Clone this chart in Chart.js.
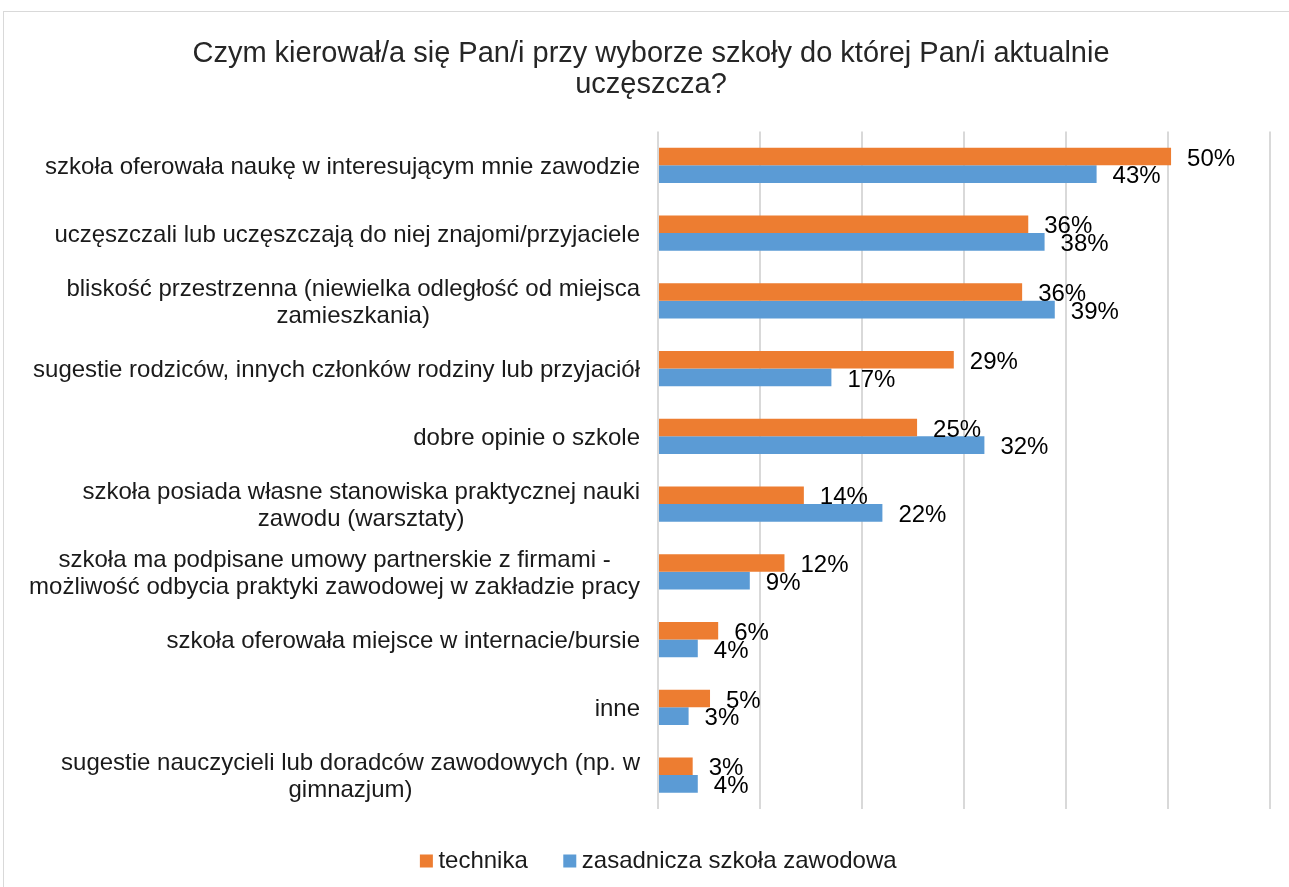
<!DOCTYPE html>
<html><head><meta charset="utf-8">
<script src="https://cdn.jsdelivr.net/npm/chart.js@4.4.1/dist/chart.umd.min.js"></script>
<style>
html,body{margin:0;padding:0;background:#fff;overflow:hidden;width:1289px;height:887px;}
#frame{position:absolute;left:3px;top:11px;width:1300px;height:900px;border:1px solid #d9d9d9;box-sizing:border-box;}
#wrap{position:absolute;left:0;top:0;width:1289px;height:887px;}
</style></head><body>
<div id="frame"></div>
<div id="wrap"><canvas id="c" width="1289" height="887"></canvas></div>
<script>
const titleLines = ['Czym kierował/a się Pan/i przy wyborze szkoły do której Pan/i aktualnie', 'uczęszcza?'];
const categories = [
  'szkoła oferowała naukę w interesującym mnie zawodzie',
  'uczęszczali lub uczęszczają do niej znajomi/przyjaciele',
  ['bliskość przestrzenna (niewielka odległość od miejsca', 'zamieszkania)'],
  'sugestie rodziców, innych członków rodziny lub przyjaciół',
  'dobre opinie o szkole',
  ['szkoła posiada własne stanowiska praktycznej nauki', 'zawodu (warsztaty)'],
  ['szkoła ma podpisane umowy partnerskie z firmami -', 'możliwość odbycia praktyki zawodowej w zakładzie pracy'],
  'szkoła oferowała miejsce w internacie/bursie',
  'inne',
  ['sugestie nauczycieli lub doradców zawodowych (np. w', 'gimnazjum)']
];
const seriesNames = ['technika', 'zasadnicza szkoła zawodowa'];
const technika   = [50.3, 36.3, 35.7, 29.0, 25.4, 14.3, 12.4, 5.9, 5.1, 3.4];
const zasadnicza = [43.0, 37.9, 38.9, 17.0, 32.0, 22.0, 9.0, 3.9, 3.0, 3.9];
const xMin = 0, xMax = 60, xStep = 10;

const FONT = '"Liberation Sans", Arial, sans-serif';

const catLabels = {
  id: 'catLabels',
  afterDraw(chart) {
    const ys = chart.scales.y, ctx = chart.ctx;
    ctx.save();
    ctx.font = '24px ' + FONT;
    ctx.fillStyle = '#1a1a1a';
    ctx.textBaseline = 'middle';
    ctx.textAlign = 'center';
    const right = ys.right - 18;
    categories.forEach((lab, i) => {
      const lines = Array.isArray(lab) ? lab : [lab];
      const w = Math.max(...lines.map(l => ctx.measureText(l).width));
      const cx = right - w / 2;
      const cy = ys.getPixelForTick(i) + 2;
      const lh = 27;
      lines.forEach((l, j) => ctx.fillText(l, cx, cy + (j - (lines.length - 1) / 2) * lh));
    });
    ctx.restore();
  }
};

const valueLabels = {
  id: 'valueLabels',
  afterDatasetsDraw(chart) {
    const ctx = chart.ctx;
    ctx.save();
    ctx.font = '24px ' + FONT;
    ctx.fillStyle = '#000';
    ctx.textBaseline = 'middle';
    ctx.textAlign = 'left';
    chart.data.datasets.forEach((ds, di) => {
      chart.getDatasetMeta(di).data.forEach((bar, i) => {
        ctx.fillText(Math.round(ds.data[i]) + '%', bar.x + 16, bar.y + 2.5);
      });
    });
    ctx.restore();
  }
};

const shiftBoxes = {
  id: 'shiftBoxes',
  afterLayout(chart) {
    if (chart.legend) {
      chart.legend.left += 26.5; chart.legend.right += 26.5;
      chart.legend.top -= 2; chart.legend.bottom -= 2;
    }
    if (chart.titleBlock) { chart.titleBlock.left += 16; chart.titleBlock.right += 16; }
  }
};

new Chart(document.getElementById('c'), {
  type: 'bar',
  data: {
    labels: categories,
    datasets: [
      { label: seriesNames[0], data: technika, backgroundColor: '#ED7D31', borderWidth: 0 },
      { label: seriesNames[1], data: zasadnicza, backgroundColor: '#5B9BD5', borderWidth: 0 }
    ]
  },
  options: {
    indexAxis: 'y',
    responsive: false,
    animation: false,
    devicePixelRatio: 1,
    categoryPercentage: 0.522,
    barPercentage: 1.0,
    layout: { padding: { left: 0, right: 19, top: 0, bottom: 2 } },
    scales: {
      x: {
        type: 'linear', min: xMin, max: xMax,
        ticks: { display: false, stepSize: xStep },
        grid: { color: '#d9d9d9', lineWidth: 2, drawTicks: false },
        border: { display: false }
      },
      y: {
        type: 'category',
        ticks: { display: false },
        grid: { display: false, drawTicks: false },
        border: { display: false },
        afterFit(s) { s.width = 658; }
      }
    },
    plugins: {
      title: {
        display: true,
        text: titleLines,
        color: '#262626',
        font: { family: FONT, size: 29, weight: 'normal', lineHeight: 1.07 },
        padding: { top: 38.5, bottom: 30.9 }
      },
      legend: {
        display: true,
        position: 'bottom',
        labels: {
          color: '#1a1a1a',
          font: { family: FONT, size: 24 },
          usePointStyle: true,
          pointStyle: 'rect',
          boxWidth: 0.01, boxHeight: 13,
          padding: 42
        }
      },
      tooltip: { enabled: false }
    }
  },
  plugins: [catLabels, valueLabels, shiftBoxes]
});
</script>
</body></html>
